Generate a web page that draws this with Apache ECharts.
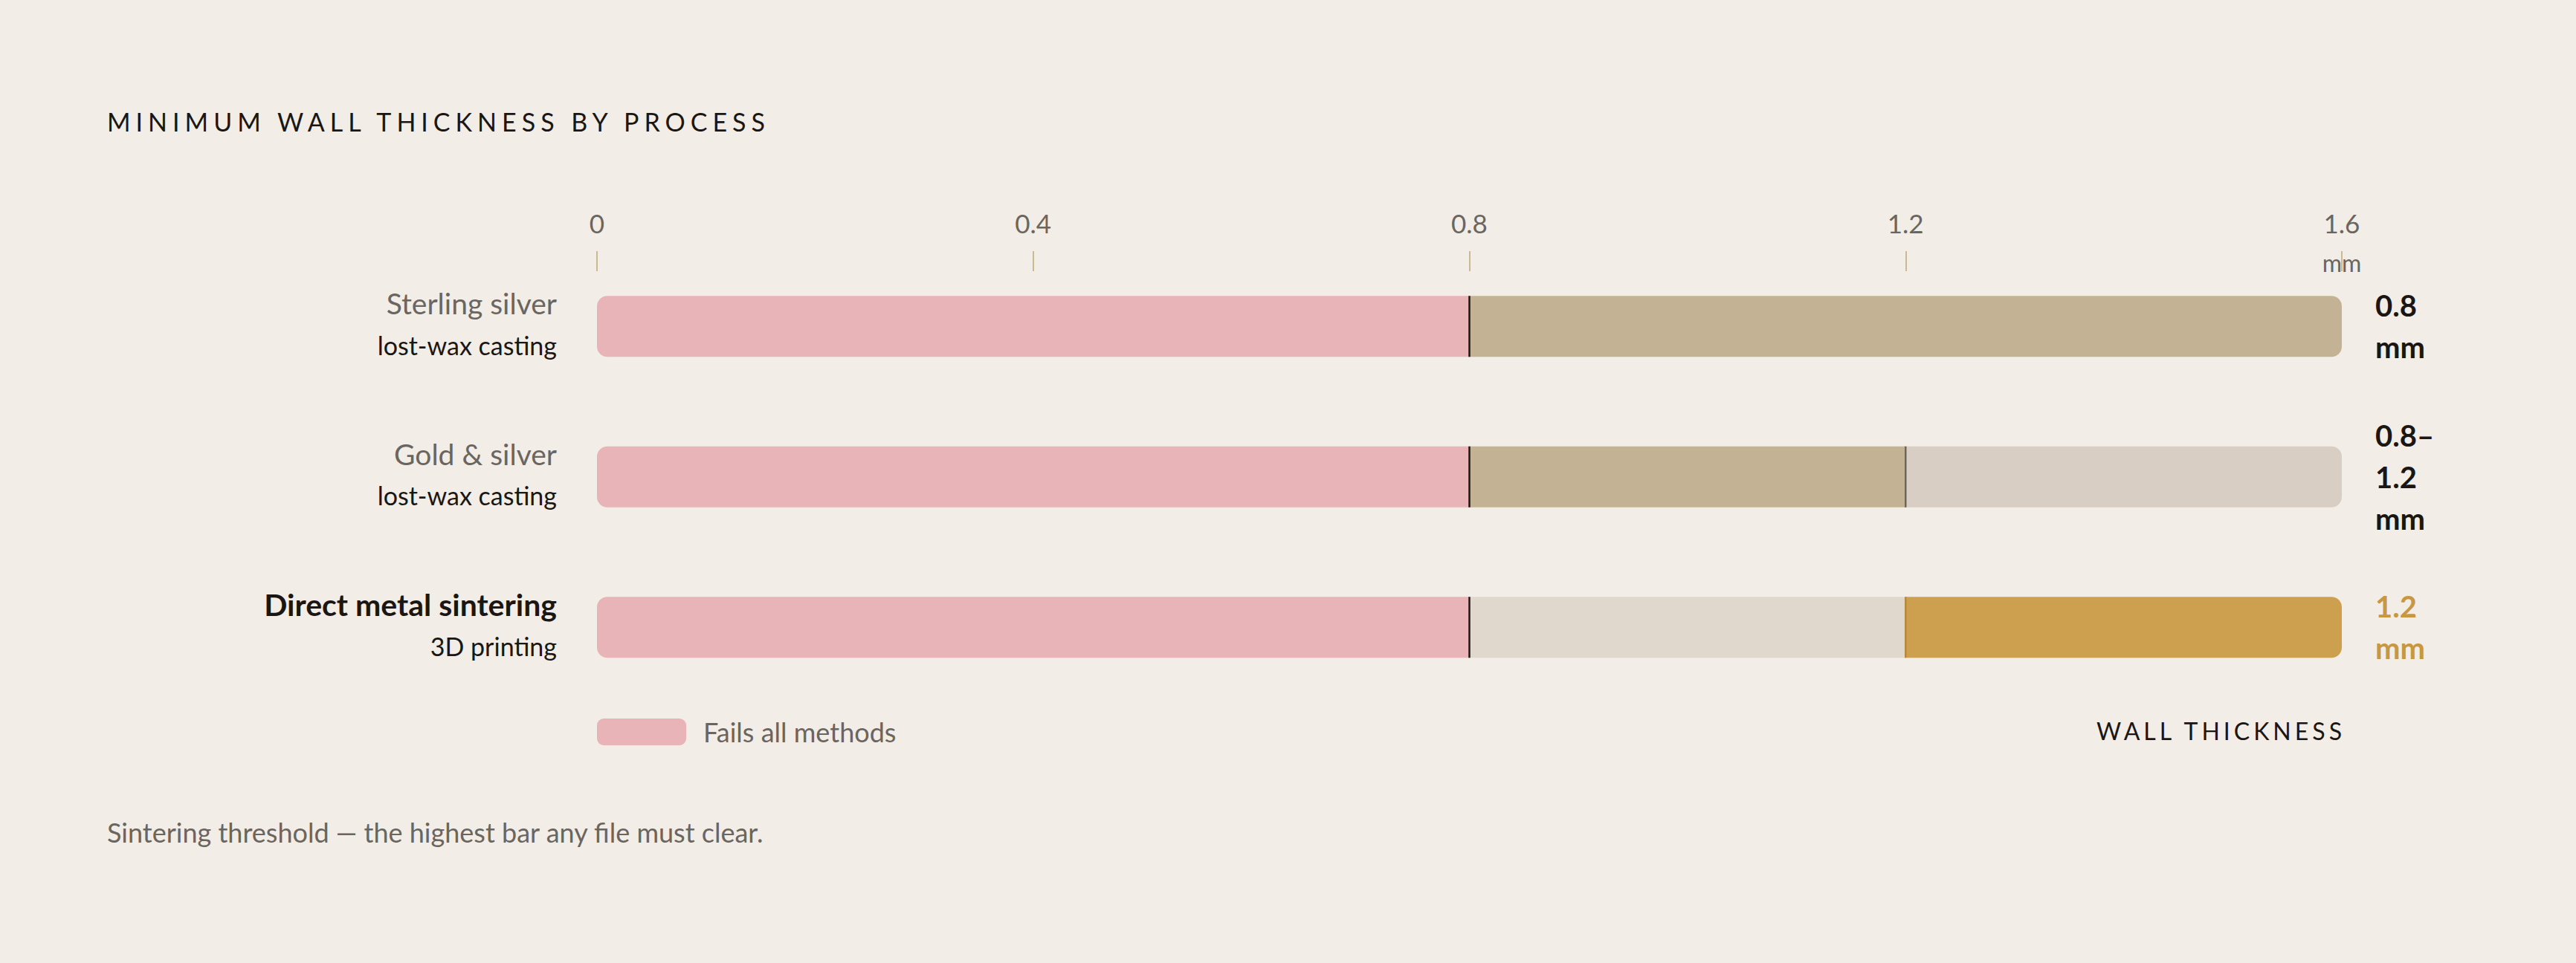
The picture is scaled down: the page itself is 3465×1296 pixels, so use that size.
<!DOCTYPE html>
<html>
<head>
<meta charset="utf-8">
<script src="https://cdn.jsdelivr.net/npm/echarts@6/dist/echarts.min.js"></script>
<style>
  html, body { margin: 0; padding: 0; background: #f2ede6; }
  #chart { width: 3465px; height: 1296px; }
</style>
</head>
<body>
<div id="chart"></div>
<script>
// ---- data ----
const categories = ['Sterling silver', 'Gold & silver', 'Direct metal sintering'];
const processes = ['lost-wax casting', 'lost-wax casting', '3D printing'];
const failsAll = [0.8, 0.8, 0.8];          // 0 -> 0.8 fails every method
const midSegment = [0.8, 0.4, 0.4];        // 0.8 -> next boundary
const upperSegment = [0, 0.4, 0.4];        // remainder up to 1.6
const boundaries = [[0.8, 0], [0.8, 1], [1.2, 1], [0.8, 2], [1.2, 2]];
const valueLabelLines = [['0.8', 'mm'], ['0.8–', '1.2', 'mm'], ['1.2', 'mm']];
const tickLabels = ['0', '0.4', '0.8', '1.2', '1.6'];
const titleText = 'MINIMUM WALL THICKNESS BY PROCESS';
const axisTitle = 'WALL THICKNESS';
const unitText = 'mm';
const legendText = 'Fails all methods';
const footnote = 'Sintering threshold — the highest bar any file must clear.';

// ---- styles ----
const FONT = 'Lato, "Open Sans", sans-serif';
const C = {
  bg: '#f2ede6', pink: '#e8b4b8', tan: '#c4b295', light: '#d8cec3',
  pale: '#e0d8cd', gold: '#cda050', ink: '#1a1614', gray: '#6b6560', tick: '#cbb98f'
};
const midColors = [C.tan, C.tan, C.pale];
const upperColors = [C.tan, C.light, C.gold];
const lineColors = ['#1a1614', '#1a1614', '#6f6556', '#1a1614', '#b8893a'];
const valueColors = [C.ink, C.ink, '#c9973f'];
const R = 14;

const chart = echarts.init(document.getElementById('chart'), null, { renderer: 'svg' });

const option = {
  backgroundColor: C.bg,
  animation: false,
  textStyle: { fontFamily: FONT },
  grid: { left: 803, right: 315, top: 338, height: 607.5, containLabel: false },
  legend: {
    data: [legendText],
    left: 798, top: 962,
    icon: 'roundRect', itemWidth: 120, itemHeight: 36,
    textStyle: { color: C.gray, fontSize: 36, fontFamily: FONT, padding: [0, 0, 0, 18] },
    selectedMode: false
  },
  xAxis: {
    type: 'value', position: 'top', min: 0, max: 1.6, interval: 0.4,
    axisLine: { show: false },
    axisTick: { show: true, inside: true, length: 27, lineStyle: { color: C.tick, width: 2 } },
    splitLine: { show: false },
    axisLabel: {
      margin: 21, color: C.gray, fontSize: 35, fontFamily: FONT,
      formatter: (v) => tickLabels[Math.round(v / 0.4)]
    }
  },
  yAxis: {
    type: 'category', inverse: true, data: categories,
    axisLine: { show: false }, axisTick: { show: false },
    axisLabel: {
      margin: 54, align: 'right',
      formatter: (v, i) => `{${i === 2 ? 'nb' : 'n'}|${v}}\n{s|${processes[i]}}`,
      rich: {
        n: { fontSize: 39, color: C.gray, lineHeight: 50, fontFamily: FONT, align: 'right' },
        nb: { fontSize: 41, color: C.ink, fontWeight: 'bold', lineHeight: 50, fontFamily: FONT, align: 'right' },
        s: { fontSize: 34, color: C.ink, lineHeight: 62, fontFamily: FONT, align: 'right' }
      }
    }
  },
  series: [
    {
      name: legendText, type: 'bar', stack: 'w', barWidth: 82,
      itemStyle: { color: C.pink, borderRadius: [R, 0, 0, R] },
      data: failsAll
    },
    {
      name: 'mid', type: 'bar', stack: 'w', barWidth: 82,
      data: midSegment.map((v, i) => ({
        value: v,
        itemStyle: { color: midColors[i], borderRadius: upperSegment[i] === 0 ? [0, R, R, 0] : 0 }
      }))
    },
    {
      name: 'upper', type: 'bar', stack: 'w', barWidth: 82,
      data: upperSegment.map((v, i) => ({
        value: v,
        itemStyle: { color: upperColors[i], borderRadius: [0, R, R, 0] },
        label: {
          show: true, position: 'right', distance: 45, align: 'left',
          formatter: valueLabelLines[i].join('\n'),
          color: valueColors[i], fontSize: 40, fontWeight: 'bold', lineHeight: 56, fontFamily: FONT,
          padding: [0, 0, 8, 0]
        }
      }))
    },
    {
      name: 'boundary', type: 'custom',
      data: boundaries,
      renderItem: (params, api) => {
        const p = api.coord([api.value(0), api.value(1)]);
        const h = 82;
        return {
          type: 'line',
          shape: { x1: p[0], y1: p[1] - h / 2, x2: p[0], y2: p[1] + h / 2 },
          style: { stroke: lineColors[params.dataIndex], lineWidth: 2.5 }
        };
      },
      z: 5
    }
  ],
  graphic: [
    { type: 'text', left: 144, top: 146, style: { text: titleText, fill: C.ink, font: `34px ${FONT}` } },
    { type: 'text', x: 3150, y: 353, style: { text: unitText, fill: C.gray, font: `32px ${FONT}`, align: 'center', verticalAlign: 'middle' } },
    { type: 'text', x: 3155, y: 983, style: { text: axisTitle, fill: C.ink, font: `32px ${FONT}`, align: 'right', verticalAlign: 'middle' } },
    { type: 'text', x: 144, y: 1120, style: { text: footnote, fill: C.gray, font: `36px ${FONT}`, verticalAlign: 'middle' } }
  ]
};
chart.setOption(option);

function spaceLetters() {
  document.querySelectorAll('#chart text').forEach(t => {
    const s = t.textContent;
    if (s === titleText) t.setAttribute('letter-spacing', '7');
    if (s === axisTitle) t.setAttribute('letter-spacing', '5');
  });
}
spaceLetters();
chart.on('finished', spaceLetters);
</script>
</body>
</html>
